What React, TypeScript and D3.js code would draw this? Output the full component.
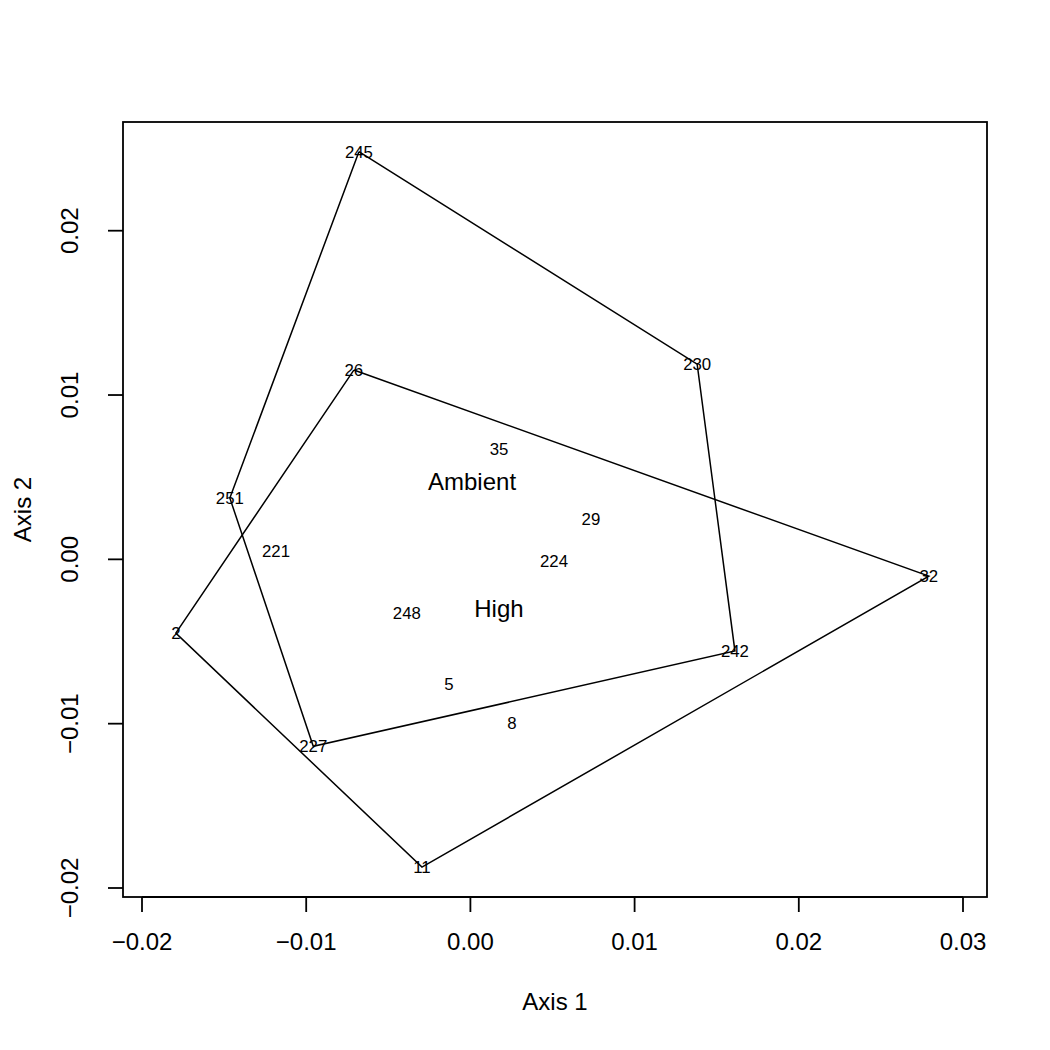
import React from "react";
import * as d3 from "d3";

const siteIds = ["245", "230", "26", "35", "251", "29", "221", "224", "32", "2", "248", "242", "5", "8", "227", "11"];
const axis1 = [-0.00679, 0.01381, -0.0071, 0.00174, -0.01465, 0.00734, -0.01184, 0.00509, 0.02792, -0.01794, -0.00387, 0.01611, -0.00131, 0.00253, -0.00957, -0.00295];
const axis2 = [0.02481, 0.01188, 0.01152, 0.0067, 0.00373, 0.00245, 0.0005, -0.0001, -0.00102, -0.00449, -0.00327, -0.00558, -0.00757, -0.00996, -0.01138, -0.01873];

const groupNames = ["Ambient", "High"];
const groupLabelX = [0.0001, 0.00174];
const groupLabelY = [0.00477, -0.00297];
const hullAmbient = ["26", "32", "11", "2"];
const hullHigh = ["245", "230", "242", "227", "251"];

const xTicks = [-0.02, -0.01, 0.0, 0.01, 0.02, 0.03];
const yTicks = [-0.02, -0.01, 0.0, 0.01, 0.02];

const FONT = "Liberation Sans, Arial, Helvetica, sans-serif";

export default function App() {
  const W = 1050, H = 1050;
  const left = 123, right = 987, top = 122, bottom = 897;
  const x = d3.scaleLinear().domain([-0.02, 0.03]).range([142, 963]);
  const y = d3.scaleLinear().domain([-0.02, 0.02]).range([888, 230.7]);
  const fmt = d3.format(".2f");
  const idx = (id: string) => siteIds.indexOf(id);
  const hullPath = (ids: string[]) => {
    const line = d3.line<string>().x((d) => x(axis1[idx(d)])).y((d) => y(axis2[idx(d)]));
    return line([...ids, ids[0]]) as string;
  };

  return (
    <svg width={W} height={H} style={{ position: "absolute", left: 0, top: 0, background: "#fff" }} fontFamily={FONT}>
      <rect x={0} y={0} width={W} height={H} fill="#fff" />
      <path d={hullPath(hullAmbient)} fill="none" stroke="#000" strokeWidth={1.5} />
      <path d={hullPath(hullHigh)} fill="none" stroke="#000" strokeWidth={1.5} />
      {siteIds.map((id, i) => (
        <text key={id} x={x(axis1[i])} y={y(axis2[i])} dy="0.36em" textAnchor="middle" fontSize={16.8} fill="#000">
          {id}
        </text>
      ))}
      {groupNames.map((g, i) => (
        <text key={g} x={x(groupLabelX[i])} y={y(groupLabelY[i])} dy="0.36em" textAnchor="middle" fontSize={24} fill="#000">
          {g}
        </text>
      ))}
      <rect x={left} y={top} width={right - left} height={bottom - top} fill="none" stroke="#000" strokeWidth={1.8} />
      {/* x axis */}
      <line x1={x(xTicks[0])} x2={x(xTicks[xTicks.length - 1])} y1={bottom} y2={bottom} stroke="#000" strokeWidth={1.8} />
      {xTicks.map((t) => (
        <g key={"x" + t}>
          <line x1={x(t)} x2={x(t)} y1={bottom} y2={bottom + 15} stroke="#000" strokeWidth={1.8} />
          <text x={x(t)} y={950} textAnchor="middle" fontSize={24} fill="#000">
            {fmt(t)}
          </text>
        </g>
      ))}
      {/* y axis */}
      {yTicks.map((t) => (
        <g key={"y" + t}>
          <line x1={left - 15} x2={left} y1={y(t)} y2={y(t)} stroke="#000" strokeWidth={1.8} />
          <text transform={`translate(78,${y(t)}) rotate(-90)`} textAnchor="middle" fontSize={24} fill="#000">
            {fmt(t)}
          </text>
        </g>
      ))}
      <text x={(left + right) / 2} y={1010} textAnchor="middle" fontSize={24} fill="#000">
        Axis 1
      </text>
      <text transform={`translate(31,${(top + bottom) / 2}) rotate(-90)`} textAnchor="middle" fontSize={24} fill="#000">
        Axis 2
      </text>
    </svg>
  );
}
